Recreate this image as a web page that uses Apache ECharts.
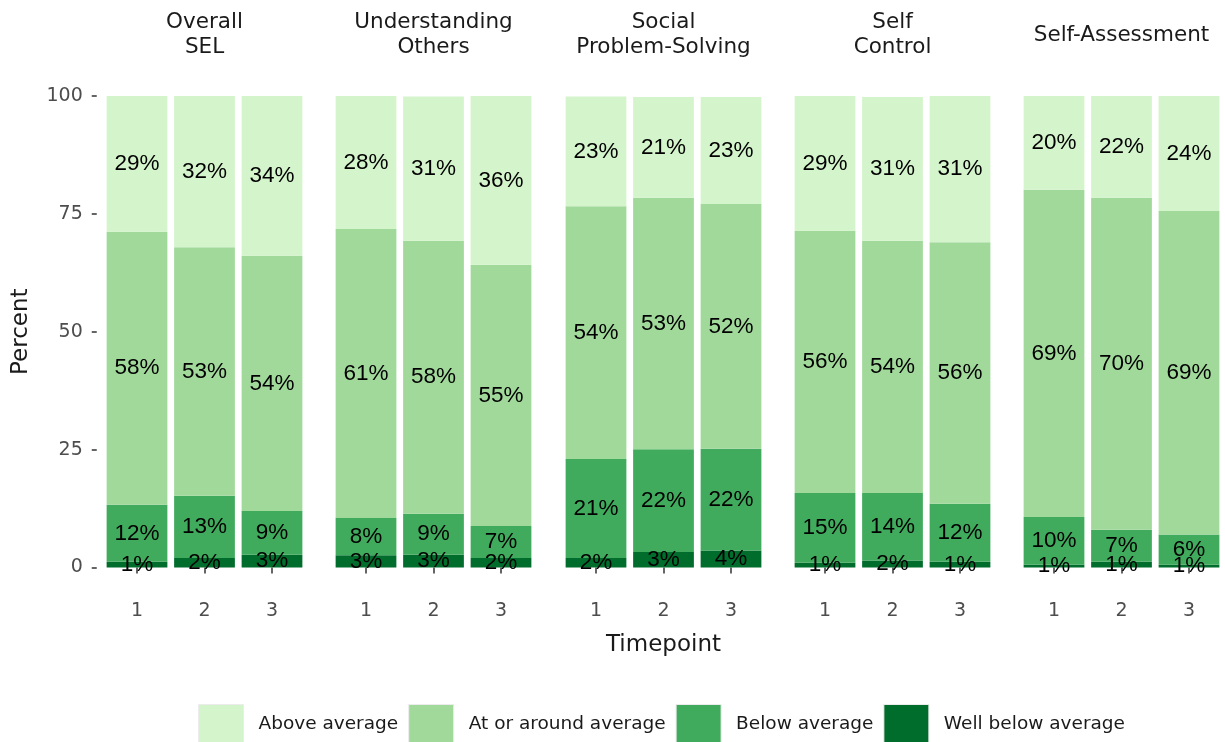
<!DOCTYPE html>
<html>
<head>
<meta charset="utf-8">
<script src="https://cdn.jsdelivr.net/npm/echarts@6/dist/echarts.min.js"></script>
<style>
html,body{margin:0;padding:0;background:#fff;}
#chart{width:1225px;height:742px;}
</style>
</head>
<body>
<div id="chart"></div>
<script>
const categories = ['1', '2', '3'];
const panels = ['Overall\nSEL', 'Understanding\nOthers', 'Social\nProblem-Solving', 'Self\nControl', 'Self-Assessment'];
const levelNames = ['Above average', 'At or around average', 'Below average', 'Well below average'];
const yTicks = [0, 25, 50, 75, 100];

// values per panel, per timepoint (1,2,3)
const wellBelow = [[1.2, 2.0, 2.7], [2.6, 2.7, 2.0], [2.0, 3.3, 3.6], [1.0, 1.5, 1.2], [0.6, 1.2, 0.6]];
const below     = [[12.1, 13.2, 9.3], [7.9, 8.7, 6.8], [21.0, 21.8, 21.6], [14.8, 14.3, 12.3], [10.1, 6.8, 6.4]];
const atAround  = [[57.9, 52.7, 54.1], [61.3, 57.9, 55.4], [53.6, 53.3, 51.9], [55.6, 53.5, 55.5], [69.4, 70.4, 68.6]];
const above     = [[28.8, 32.1, 33.9], [28.2, 30.6, 35.8], [23.3, 21.4, 22.7], [28.6, 30.5, 31.0], [19.9, 21.6, 24.4]];

const colors = {
  'Above average': '#d4f4cb',
  'At or around average': '#a1d99b',
  'Below average': '#41ab5d',
  'Well below average': '#006d2c'
};

const chart = echarts.init(document.getElementById('chart'), null, {renderer: 'canvas'});

const centers = [204.5, 433.5, 663.5, 892.5, 1121.5];
const bandW = 67.5;
const gridTop = 96, gridH = 471.5;
const uiFont = '"DejaVu Sans", "Open Sans", sans-serif';
const legendTextPadRight = [3, 6, 4, 0];

const grids = [], xAxes = [], yAxes = [], series = [], titles = [];
panels.forEach((p, i) => {
  grids.push({left: centers[i] - 1.5 * bandW, width: 3 * bandW, top: gridTop, height: gridH, containLabel: false});
  xAxes.push({
    type: 'category', gridIndex: i, data: categories,
    offset: 25,
    axisLine: {show: false},
    axisTick: {show: true, alignWithLabel: true, length: 6, lineStyle: {color: '#333', width: 1.5}},
    axisLabel: {fontSize: 19, color: '#4d4d4d', margin: 9, fontFamily: uiFont},
    name: i === 2 ? 'Timepoint' : '',
    nameLocation: 'middle', nameGap: 41,
    nameTextStyle: {fontSize: 23, color: '#1a1a1a', fontFamily: uiFont}
  });
  yAxes.push({
    type: 'value', gridIndex: i, min: 0, max: 100, interval: 25,
    offset: 6.5,
    splitLine: {show: false},
    axisLine: {show: false},
    axisTick: {show: i === 0, length: 5, lineStyle: {color: '#333', width: 1.5}},
    axisLabel: {show: i === 0, fontSize: 19, color: '#4d4d4d', margin: 14, fontFamily: uiFont,
      formatter: v => yTicks.includes(v) ? String(v) : ''},
    name: i === 0 ? 'Percent' : '',
    nameLocation: 'middle', nameRotate: 90, nameGap: 64,
    nameTextStyle: {fontSize: 23, color: '#1a1a1a', fontFamily: uiFont}
  });
  const twoLine = p.indexOf('\n') >= 0;
  titles.push({
    text: p, left: centers[i], top: twoLine ? 10 : 23, textAlign: 'center', padding: 0,
    textStyle: {fontSize: 21.5, fontWeight: 'normal', color: '#1a1a1a', lineHeight: 25, fontFamily: uiFont}
  });
  const stackData = [
    ['Well below average', wellBelow[i]],
    ['Below average', below[i]],
    ['At or around average', atAround[i]],
    ['Above average', above[i]]
  ];
  stackData.forEach(([name, vals]) => {
    series.push({
      type: 'bar', name: name, stack: 'p' + i,
      xAxisIndex: i, yAxisIndex: i,
      data: vals, barWidth: '90%',
      itemStyle: {color: colors[name]},
      label: {
        show: true, position: 'inside', fontSize: 22.5, color: '#000',
        fontFamily: '"Liberation Sans", Arial, sans-serif',
        formatter: d => Math.round(d.value) + '%'
      },
      emphasis: {disabled: true},
      animation: false
    });
  });
});

chart.setOption({
  animation: false,
  title: titles,
  grid: grids,
  xAxis: xAxes,
  yAxis: yAxes,
  legend: {
    data: levelNames.map((n, k) => ({
      name: n, icon: 'rect',
      itemStyle: {borderColor: '#ececec', borderWidth: 1},
      textStyle: {padding: [0, legendTextPadRight[k], 0, 10]}
    })),
    left: 193, top: 699,
    itemWidth: 45, itemHeight: 39, itemGap: 10,
    selectedMode: false,
    textStyle: {fontSize: 18.5, color: '#1a1a1a', fontFamily: uiFont, padding: [0, 0, 0, 10]}
  },
  series: series
});
</script>
</body>
</html>
